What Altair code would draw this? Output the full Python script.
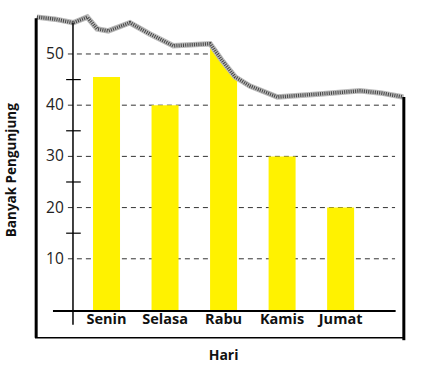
import altair as alt
import pandas as pd

hari = ["Senin", "Selasa", "Rabu", "Kamis", "Jumat"]
pengunjung = [45.5, 40, 52, 30, 20]
posisi = [1, 2, 3, 4, 5]

grid_vals = [10, 20, 30, 40, 50]
minor_vals = [15, 25, 35, 45]

# torn paper edge (x in category-position units, y in value units)
tepi_x = [-0.19, 0.12, 0.43, 0.67, 0.84, 1.03, 1.40, 1.74, 2.14, 2.77, 2.97, 3.20, 3.45, 3.92, 4.65, 5.33, 5.68, 6.07]
tepi_y = [57.2, 56.8, 56.1, 57.2, 54.9, 54.5, 56.1, 53.9, 51.6, 52.0, 48.8, 45.5, 43.75, 41.6, 42.2, 42.8, 42.4, 41.6]

XMIN, XMAX = -0.222, 6.10
YMIN, YMAX = -5.86, 58.59
AXIS_X = 0.427

bars = pd.DataFrame({"hari": hari, "n": pengunjung, "pos": posisi, "nol": 0.0, "ly": -2.0})
grid = pd.DataFrame({"v": grid_vals, "x1": 0.34, "x2": 5.93})
minor = pd.DataFrame({"v": minor_vals, "x1": 0.31, "x2": 0.56})
tepi = pd.DataFrame({"x": tepi_x, "y": tepi_y, "top": YMAX + 2})

xs = alt.Scale(domain=[XMIN, XMAX], nice=False, zero=False, padding=0)
ys = alt.Scale(domain=[YMIN, YMAX], nice=False, zero=False, padding=0)

def X(f, **k):
    return alt.X(f, scale=xs, axis=None, **k)

def Y(f, **k):
    return alt.Y(f, scale=ys, axis=None, **k)

gridlines = alt.Chart(grid).mark_rule(color="#333333", strokeDash=[5, 4], strokeWidth=1).encode(
    x=X("x1:Q"), x2="x2:Q", y=Y("v:Q"))

barlayer = alt.Chart(bars).mark_bar(color="#FFF200", size=27).encode(
    x=X("pos:Q"), y=Y("n:Q"), y2="nol:Q")

whiteout = alt.Chart(tepi).mark_area(color="white", opacity=1).encode(
    x=X("x:Q"), y=Y("y:Q"), y2="top:Q")

edge_bg = alt.Chart(tepi).mark_line(color="#bbbbbb", strokeWidth=5.5).encode(
    x=X("x:Q"), y=Y("y:Q"))
edge_fg = alt.Chart(tepi).mark_line(color="#444444", strokeWidth=3.5, strokeDash=[1, 1.2]).encode(
    x=X("x:Q"), y=Y("y:Q"))

yaxis = alt.Chart(pd.DataFrame({"x": [AXIS_X], "y1": [56.1], "y2": [-2.9]})).mark_rule(
    color="black", strokeWidth=1.5).encode(x=X("x:Q"), y=Y("y1:Q"), y2="y2:Q")

baseline = alt.Chart(pd.DataFrame({"x1": [0.085], "x2": [5.94], "y": [-0.2]})).mark_rule(
    color="black", strokeWidth=2).encode(x=X("x1:Q"), x2="x2:Q", y=Y("y:Q"))

minorticks = alt.Chart(minor).mark_rule(color="black", strokeWidth=1.2).encode(
    x=X("x1:Q"), x2="x2:Q", y=Y("v:Q"))

frame_thick = alt.Chart(pd.DataFrame({
    "x1": [XMIN + 0.02, 6.08], "y1": [57.0, 41.6], "y2": [-5.4, -5.9]})).mark_rule(
    color="black", strokeWidth=3).encode(x=X("x1:Q"), y=Y("y1:Q"), y2="y2:Q")
frame_bottom = alt.Chart(pd.DataFrame({
    "x1": [XMIN], "x2": [6.10], "y": [-5.4]})).mark_rule(
    color="black", strokeWidth=1.5).encode(x=X("x1:Q"), x2="x2:Q", y=Y("y:Q"))

ylabels = alt.Chart(pd.DataFrame({"v": grid_vals, "x": 0.27})).mark_text(
    align="right", baseline="middle", fontSize=15.5, font="Open Sans", color="#222222").encode(
    x=X("x:Q"), y=Y("v:Q"), text=alt.Text("v:Q"))

xlabels = alt.Chart(bars).mark_text(
    align="center", baseline="middle", fontSize=14.5, fontWeight="bold", font="Open Sans",
    color="#111111").encode(
    x=X("pos:Q"), y=Y("ly:Q"), text="hari:N")

xtitle = alt.Chart(pd.DataFrame({"t": ["Hari"], "x": [3.0], "y": [-8.9]})).mark_text(
    align="center", baseline="middle", fontSize=14, fontWeight="bold", font="Open Sans",
    color="#111111").encode(x=X("x:Q"), y=Y("y:Q"), text="t:N")

ytitle = alt.Chart(pd.DataFrame({"t": ["Banyak Pengunjung"], "x": [-0.62], "y": [27.3]})).mark_text(
    align="center", baseline="middle", fontSize=13.5, fontWeight="bold", font="Open Sans",
    color="#111111", angle=270).encode(x=X("x:Q"), y=Y("y:Q"), text="t:N")

chart = alt.layer(
    gridlines, barlayer, whiteout, edge_bg, edge_fg, yaxis, baseline, minorticks,
    frame_thick, frame_bottom, ylabels, xlabels, xtitle, ytitle
).properties(
    width=370, height=330,
    padding={"left": 35, "top": 10, "right": 19, "bottom": 34},
    autosize=alt.AutoSizeParams(type="none"),
    background="white",
).configure_view(stroke=None)

chart.save("out.html", embed_options={"renderer": "svg", "actions": False})
